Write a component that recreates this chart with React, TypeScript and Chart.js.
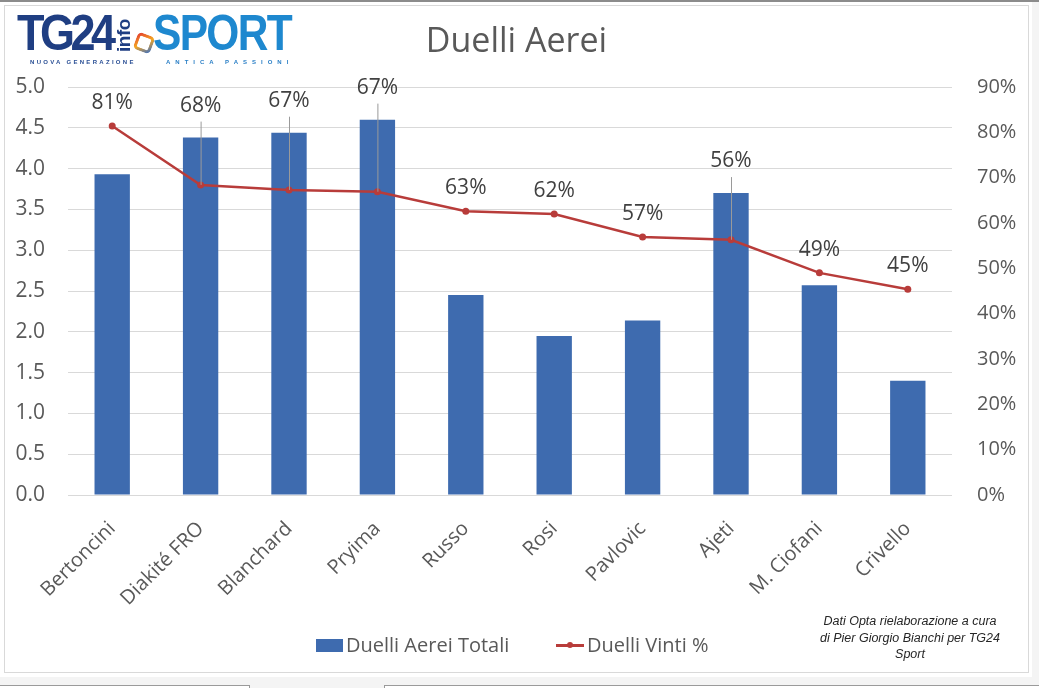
import React, { useEffect, useRef } from "react";
import { Chart, registerables } from "chart.js";

Chart.register(...registerables);

const categories = [
  "Bertoncini",
  "Diakité FRO",
  "Blanchard",
  "Pryima",
  "Russo",
  "Rosi",
  "Pavlovic",
  "Ajeti",
  "M. Ciofani",
  "Crivello",
];
const duelliAereiTotali = [3.93, 4.38, 4.44, 4.6, 2.45, 1.95, 2.14, 3.7, 2.57, 1.4];
const duelliVintiPct = [81.4, 68.4, 67.3, 66.9, 62.6, 62.0, 56.9, 56.3, 49.0, 45.4];
const leftAxisMax = 5;
const leftAxisStep = 0.5;
const rightAxisMax = 90;
const rightAxisStep = 10;

const FONT = "'Open Sans', 'Noto Sans', sans-serif";
const TEXT = "#595959";
const BAR = "#3E6BAF";
const LINE = "#B83C3A";

const W = 1039;
const H = 688;

const labelsPlugin = {
  id: "pctLabels",
  afterDatasetsDraw(chart: any) {
    const ctx = chart.ctx;
    const barMeta = chart.getDatasetMeta(0);
    const lineMeta = chart.getDatasetMeta(1);
    ctx.save();
    ctx.font = `21px ${FONT}`;
    ctx.textAlign = "center";
    ctx.textBaseline = "middle";
    lineMeta.data.forEach((pt: any, i: number) => {
      const bar = barMeta.data[i];
      const px = pt.x;
      const py = pt.y;
      const barTop = bar.y;
      let ly: number;
      if (barTop < py) {
        ly = barTop - 32;
        ctx.strokeStyle = "#9a9a9a";
        ctx.lineWidth = 1;
        ctx.beginPath();
        ctx.moveTo(px + 0.5, ly + 16);
        ctx.lineTo(px + 0.5, py);
        ctx.stroke();
      } else {
        ly = py - 23;
      }
      ctx.fillStyle = "#404040";
      ctx.fillText(Math.round(duelliVintiPct[i]) + "%", px, ly);
    });
    ctx.restore();
  },
};

function ChartCanvas() {
  const ref = useRef<HTMLCanvasElement | null>(null);
  useEffect(() => {
    if (!ref.current) return;
    const chart = new Chart(ref.current, {
      type: "bar",
      data: {
        labels: categories,
        datasets: [
          {
            type: "bar",
            label: "Duelli Aerei Totali",
            data: duelliAereiTotali,
            backgroundColor: BAR,
            borderWidth: 0,
            barPercentage: 0.4,
            categoryPercentage: 1,
            yAxisID: "y",
            order: 1,
          },
          {
            type: "line",
            label: "Duelli Vinti %",
            data: duelliVintiPct,
            borderColor: LINE,
            backgroundColor: LINE,
            borderWidth: 2.5,
            pointRadius: 3.5,
            pointBackgroundColor: LINE,
            pointBorderWidth: 0,
            tension: 0,
            yAxisID: "y1",
            order: 0,
          } as any,
        ],
      },
      options: {
        animation: false,
        responsive: false,
        maintainAspectRatio: false,
        devicePixelRatio: 1,
        layout: { padding: { top: 87, left: 0, right: 0, bottom: 0 } },
        plugins: {
          legend: { display: false },
          title: { display: false },
          tooltip: { enabled: false },
        },
        scales: {
          x: {
            offset: true,
            grid: { display: false, drawTicks: false },
            border: { display: false },
            ticks: {
              minRotation: 45,
              maxRotation: 45,
              padding: 22,
              color: TEXT,
              font: { family: FONT, size: 20 },
            },
            afterFit(scale: any) {
              scale.height = H - 495;
            },
          },
          y: {
            position: "left",
            min: 0,
            max: leftAxisMax,
            grid: { color: "#d9d9d9", lineWidth: 1, drawTicks: false },
            border: { display: false },
            ticks: {
              stepSize: leftAxisStep,
              padding: 23,
              color: TEXT,
              font: { family: FONT, size: 21 },
              callback: (v: any) => Number(v).toFixed(1),
            },
            afterFit(scale: any) {
              scale.width = 68;
            },
          },
          y1: {
            position: "right",
            min: 0,
            max: rightAxisMax,
            grid: { display: false, drawTicks: false },
            border: { display: false },
            ticks: {
              stepSize: rightAxisStep,
              padding: 25,
              color: TEXT,
              font: { family: FONT, size: 20 },
              callback: (v: any) => `${v}%`,
            },
            afterFit(scale: any) {
              scale.width = W - 952;
            },
          },
        },
      },
      plugins: [labelsPlugin],
    });
    return () => chart.destroy();
  }, []);
  return (
    <canvas
      ref={ref}
      width={W}
      height={H}
      style={{ position: "absolute", left: 0, top: 0, width: W, height: H }}
    />
  );
}

const LOGO_FONT = "'Liberation Sans', Arial, sans-serif";

export default function App() {
  return (
    <div
      style={{
        position: "fixed",
        left: 0,
        top: 0,
        width: W,
        height: H,
        background: "#ffffff",
        overflow: "hidden",
        fontFamily: FONT,
      }}
    >
      {/* outer frame */}
      <div style={{ position: "absolute", left: 0, top: 0, width: W, height: 2, background: "#8c8c8c" }} />
      <div
        style={{
          position: "absolute",
          left: 4,
          top: 5,
          width: 1025,
          height: 668,
          border: "1.5px solid #d9d9d9",
          boxSizing: "border-box",
        }}
      />
      <div style={{ position: "absolute", left: 1032, top: 2, width: 7, height: 680, background: "#f4f4f4" }} />
      <div style={{ position: "absolute", left: 0, top: 677, width: W, height: 11, background: "#f4f4f4" }} />
      <div style={{ position: "absolute", left: 0, top: 685, width: 249, height: 3, borderTop: "1px solid #9a9a9a", borderRight: "1px solid #9a9a9a", background: "#fff" }} />
      <div style={{ position: "absolute", left: 384, top: 685, width: 655, height: 3, borderTop: "1px solid #9a9a9a", borderLeft: "1px solid #9a9a9a", background: "#fff" }} />

      <ChartCanvas />

      {/* title */}
      <div
        style={{
          position: "absolute",
          left: 0,
          width: W,
          top: 16,
          textAlign: "center",
          fontSize: 34,
          color: TEXT,
          lineHeight: "46px",
          paddingRight: 6,
          boxSizing: "border-box",
        }}
      >
        Duelli Aerei
      </div>

      {/* logo */}
      <div style={{ position: "absolute", left: 17, top: 8, width: 290, height: 62 }}>
        <div
          style={{
            position: "absolute",
            left: 0,
            top: 0,
            fontFamily: LOGO_FONT,
            fontWeight: 700,
            fontSize: 50,
            lineHeight: "50px",
            color: "#1F3E82",
            letterSpacing: -5,
            transform: "scaleX(0.9)",
            transformOrigin: "left top",
          }}
        >
          TG24
        </div>
        <div
          style={{
            position: "absolute",
            left: 97,
            top: 44,
            fontFamily: LOGO_FONT,
            fontWeight: 700,
            fontSize: 19,
            lineHeight: "19px",
            color: "#1F3E82",
            transform: "rotate(-90deg)",
            transformOrigin: "left top",
            letterSpacing: -0.5,
            whiteSpace: "nowrap",
          }}
        >
          info
        </div>
        <div
          style={{
            position: "absolute",
            left: 118,
            top: 26,
            width: 18,
            height: 18,
            borderRadius: 5,
            border: "3px solid transparent",
            background:
              "linear-gradient(#fff,#fff) padding-box, linear-gradient(135deg, #e03030 0%, #f5a623 50%, #2a6bd1 100%) border-box",
            boxSizing: "border-box",
            transform: "rotate(20deg)",
          }}
        />
        <div
          style={{
            position: "absolute",
            left: 136,
            top: 0,
            fontFamily: LOGO_FONT,
            fontWeight: 700,
            fontSize: 50,
            lineHeight: "50px",
            color: "#1E88CF",
            letterSpacing: -2,
            transform: "scaleX(0.85)",
            transformOrigin: "left top",
          }}
        >
          SPORT
        </div>
        <div
          style={{
            position: "absolute",
            left: 13,
            top: 51,
            fontFamily: LOGO_FONT,
            fontWeight: 700,
            fontSize: 6,
            color: "#2a4f95",
            letterSpacing: 2.3,
            whiteSpace: "nowrap",
          }}
        >
          NUOVA GENERAZIONE
        </div>
        <div
          style={{
            position: "absolute",
            left: 149,
            top: 51,
            fontFamily: LOGO_FONT,
            fontWeight: 700,
            fontSize: 6,
            color: "#2a7fc6",
            letterSpacing: 5,
            whiteSpace: "nowrap",
          }}
        >
          ANTICA PASSIONI
        </div>
      </div>

      {/* legend */}
      <div style={{ position: "absolute", left: 316, top: 639, width: 27, height: 13, background: BAR }} />
      <div style={{ position: "absolute", left: 346, top: 630, fontSize: 20, color: TEXT, lineHeight: "30px", whiteSpace: "nowrap" }}>
        Duelli Aerei Totali
      </div>
      <div style={{ position: "absolute", left: 556, top: 644, width: 28, height: 2.5, background: LINE }} />
      <div style={{ position: "absolute", left: 567, top: 642, width: 6, height: 6, borderRadius: 3, background: LINE }} />
      <div style={{ position: "absolute", left: 587, top: 630, fontSize: 20, color: TEXT, lineHeight: "30px", whiteSpace: "nowrap" }}>
        Duelli Vinti %
      </div>

      {/* note */}
      <div
        style={{
          position: "absolute",
          left: 800,
          top: 613,
          width: 220,
          textAlign: "center",
          fontFamily: LOGO_FONT,
          fontStyle: "italic",
          fontSize: 12.5,
          lineHeight: "16.5px",
          color: "#262626",
        }}
      >
        Dati Opta rielaborazione a cura
        <br />
        di Pier Giorgio Bianchi per TG24
        <br />
        Sport
      </div>
    </div>
  );
}
